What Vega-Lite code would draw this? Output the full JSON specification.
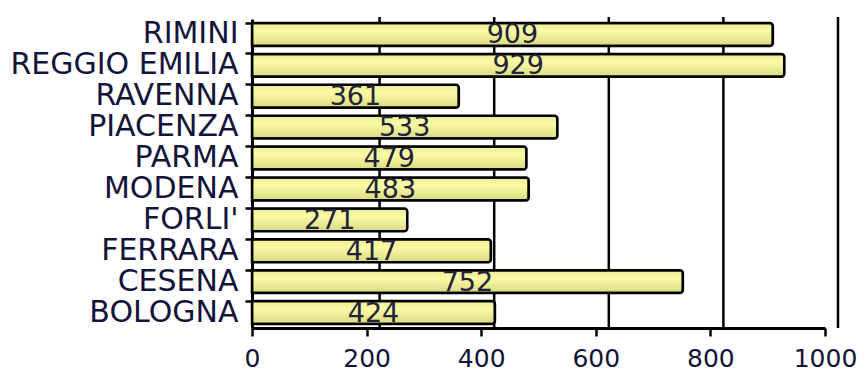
{
  "$schema": "https://vega.github.io/schema/vega-lite/v6.json",
  "autosize": "none",
  "width": 573,
  "height": 309,
  "padding": {"left": 252, "top": 19, "right": 40, "bottom": 48},
  "background": "white",
  "config": {"view": {"stroke": null}, "font": "DejaVu Sans"},
  "datasets": {
    "cities": [
      {"city": "RIMINI", "value": 909},
      {"city": "REGGIO EMILIA", "value": 929},
      {"city": "RAVENNA", "value": 361},
      {"city": "PIACENZA", "value": 533},
      {"city": "PARMA", "value": 479},
      {"city": "MODENA", "value": 483},
      {"city": "FORLI'", "value": 271},
      {"city": "FERRARA", "value": 417},
      {"city": "CESENA", "value": 752},
      {"city": "BOLOGNA", "value": 424}
    ],
    "grid": [{"g": 200}, {"g": 400}, {"g": 600}, {"g": 800}, {"g": 1000}]
  },
  "layer": [
    {
      "data": {"name": "grid"},
      "mark": {"type": "rule", "color": "black", "strokeWidth": 2.5, "xOffset": 13, "yOffset": -2},
      "encoding": {
        "x": {"field": "g", "type": "quantitative", "scale": {"domain": [0, 1000]}, "axis": null}
      }
    },
    {
      "data": {"name": "cities"},
      "mark": {
        "type": "bar",
        "stroke": "black",
        "strokeWidth": 2.5,
        "cornerRadiusEnd": 3,
        "color": {
          "gradient": "linear", "x1": 0, "y1": 0, "x2": 0, "y2": 1,
          "stops": [
            {"offset": 0, "color": "#ecec94"},
            {"offset": 0.35, "color": "#fbfba6"},
            {"offset": 1, "color": "#d9d980"}
          ]
        }
      },
      "encoding": {
        "y": {
          "field": "city", "type": "nominal",
          "sort": ["RIMINI", "REGGIO EMILIA", "RAVENNA", "PIACENZA", "PARMA", "MODENA", "FORLI'", "FERRARA", "CESENA", "BOLOGNA"],
          "scale": {"paddingInner": 0.26, "paddingOuter": 0.13},
          "axis": {
            "title": null, "bandPosition": 0, "domainColor": "black", "domainWidth": 3,
            "tickColor": "black", "tickWidth": 2.5, "tickSize": 7, "labelPadding": 7,
            "labelFont": "DejaVu Sans", "labelFontSize": 30, "labelColor": "#14143a",
            "labelLimit": 0, "labelOverlap": false, "grid": false
          }
        },
        "x": {
          "field": "value", "type": "quantitative",
          "scale": {"domain": [0, 1000]},
          "axis": {
            "title": null, "values": [0, 200, 400, 600, 800, 1000], "format": "d", "grid": false,
            "domainColor": "black", "domainWidth": 3, "tickColor": "black", "tickWidth": 2.5,
            "tickSize": 8, "labelPadding": 10, "labelFont": "DejaVu Sans", "labelFontSize": 25,
            "labelColor": "#14143a", "labelFlush": false, "labelOverlap": false, "labelBound": false
          }
        }
      }
    },
    {
      "data": {"name": "cities"},
      "mark": {"type": "text", "font": "DejaVu Sans", "fontSize": 27, "color": "#22223a", "baseline": "middle", "dy": 1},
      "encoding": {
        "y": {
          "field": "city", "type": "nominal",
          "sort": ["RIMINI", "REGGIO EMILIA", "RAVENNA", "PIACENZA", "PARMA", "MODENA", "FORLI'", "FERRARA", "CESENA", "BOLOGNA"]
        },
        "x": {"field": "value", "type": "quantitative", "scale": {"domain": [0, 2000]}, "axis": null},
        "text": {"field": "value", "type": "quantitative"}
      }
    }
  ],
  "resolve": {"scale": {"x": "independent"}}
}
